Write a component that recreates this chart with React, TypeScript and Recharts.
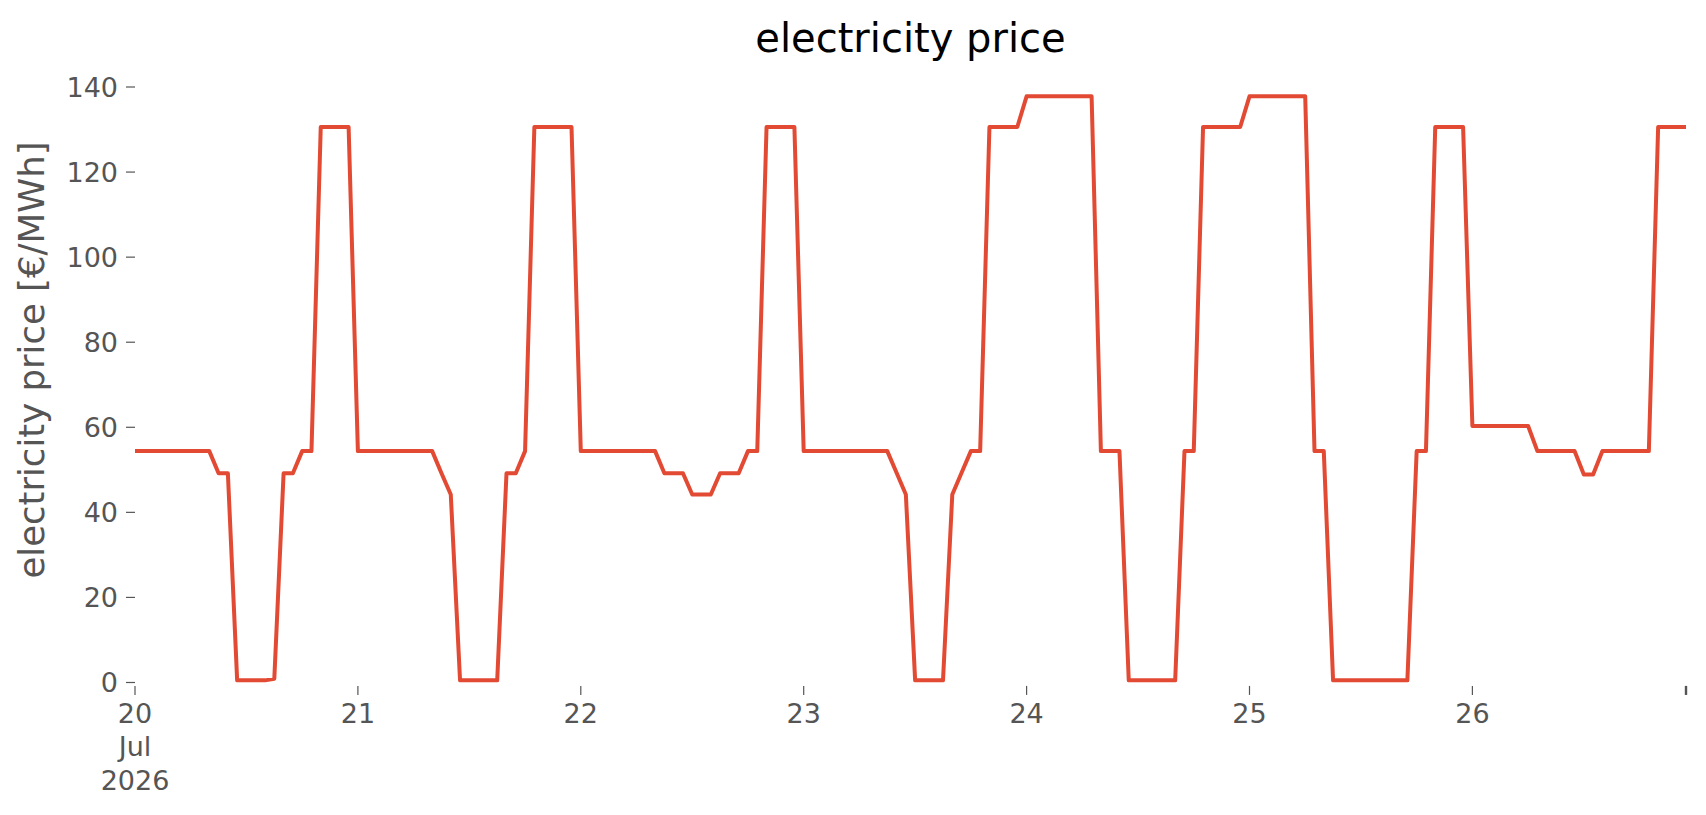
import React from "react";
import { LineChart, Line, XAxis, YAxis } from "recharts";

// Hourly electricity prices [€/MWh], 20–26 Jul 2026 (24 values per day)
const jul20 = [54.4, 54.4, 54.4, 54.4, 54.4, 54.4, 54.4, 54.4, 54.4, 49.2, 49.2, 0.5, 0.5, 0.5, 0.5, 0.9, 49.2, 49.2, 54.4, 54.4, 130.6, 130.6, 130.6, 130.6];
const jul21 = [54.4, 54.4, 54.4, 54.4, 54.4, 54.4, 54.4, 54.4, 54.4, 49.2, 44.2, 0.5, 0.5, 0.5, 0.5, 0.5, 49.2, 49.2, 54.4, 130.6, 130.6, 130.6, 130.6, 130.6];
const jul22 = [54.4, 54.4, 54.4, 54.4, 54.4, 54.4, 54.4, 54.4, 54.4, 49.2, 49.2, 49.2, 44.2, 44.2, 44.2, 49.2, 49.2, 49.2, 54.4, 54.4, 130.6, 130.6, 130.6, 130.6];
const jul23 = [54.4, 54.4, 54.4, 54.4, 54.4, 54.4, 54.4, 54.4, 54.4, 54.4, 49.3, 44.2, 0.5, 0.5, 0.5, 0.5, 44.2, 49.3, 54.4, 54.4, 130.6, 130.6, 130.6, 130.6];
const jul24 = [137.8, 137.8, 137.8, 137.8, 137.8, 137.8, 137.8, 137.8, 54.4, 54.4, 54.4, 0.5, 0.5, 0.5, 0.5, 0.5, 0.5, 54.4, 54.4, 130.6, 130.6, 130.6, 130.6, 130.6];
const jul25 = [137.8, 137.8, 137.8, 137.8, 137.8, 137.8, 137.8, 54.4, 54.4, 0.5, 0.5, 0.5, 0.5, 0.5, 0.5, 0.5, 0.5, 0.5, 54.4, 54.4, 130.6, 130.6, 130.6, 130.6];
const jul26 = [60.3, 60.3, 60.3, 60.3, 60.3, 60.3, 60.3, 54.4, 54.4, 54.4, 54.4, 54.4, 48.9, 48.9, 54.4, 54.4, 54.4, 54.4, 54.4, 54.4, 130.6, 130.6, 130.6, 130.6];

const days = [jul20, jul21, jul22, jul23, jul24, jul25, jul26];

// x ticks (hour index from 20 Jul 00:00) and their labels
const xTicks = [0, 24, 48, 72, 96, 120, 144, 167];
const xTickLabels: string[][] = [["20", "Jul", "2026"], ["21"], ["22"], ["23"], ["24"], ["25"], ["26"], []];
const yTicks = [0, 20, 40, 60, 80, 100, 120, 140];

const data = days.flatMap((prices, d) =>
  prices.map((price, h) => ({ t: d * 24 + h, price }))
);

const FONT = "'DejaVu Sans', 'Liberation Sans', sans-serif";
const GREY = "#555555";
const TICK_FS = 27;

function XTick(props: any) {
  const { x, y, payload } = props;
  const idx = xTicks.indexOf(payload.value);
  const lines = idx >= 0 ? xTickLabels[idx] : [];
  return (
    <g>
      {payload.value === 167 && (
        <line x1={x} x2={x} y1={y - 11} y2={y - 2} stroke={GREY} strokeWidth={2.4} />
      )}
      <text x={x} y={y} fill={GREY} fontSize={TICK_FS} fontFamily={FONT} textAnchor="middle">
        {lines.map((l, i) => (
          <tspan key={i} x={x} dy={i === 0 ? 25.8 : 33.4}>
            {l}
          </tspan>
        ))}
      </text>
    </g>
  );
}

export default function App() {
  return (
    <div style={{ position: "relative", width: 1706, height: 815, background: "#ffffff", fontFamily: FONT }}>
      <style>{"body{margin:0;background:#ffffff;}"}</style>
      <LineChart
        width={1706}
        height={815}
        data={data}
        margin={{ top: 87, right: 20, bottom: 29.1, left: 0 }}
      >
        <XAxis
          type="number"
          dataKey="t"
          domain={[0, 167]}
          ticks={xTicks}
          interval={0}
          axisLine={false}
          tickLine={{ stroke: GREY, strokeWidth: 1.2 }}
          tickSize={9}
          tickMargin={2}
          height={100}
          tick={<XTick />}
        />
        <YAxis
          type="number"
          domain={[-0.8, 140]}
          ticks={yTicks}
          interval={0}
          axisLine={false}
          tickLine={{ stroke: GREY, strokeWidth: 1.2 }}
          tickSize={9}
          tickMargin={8}
          width={135}
          tick={{ fill: GREY, fontSize: TICK_FS, fontFamily: FONT }}
        />
        <Line
          type="linear"
          dataKey="price"
          stroke="#E24A33"
          strokeWidth={4}
          strokeLinejoin="round"
          dot={false}
          activeDot={false}
          isAnimationActive={false}
        />
      </LineChart>
      <svg
        width={1706}
        height={815}
        style={{ position: "absolute", left: 0, top: 0, pointerEvents: "none" }}
      >
        <text x={910.5} y={52} textAnchor="middle" fontSize={40} fill="#000000" fontFamily={FONT}>
          electricity price
        </text>
        <text
          transform="translate(44, 360) rotate(-90)"
          textAnchor="middle"
          fontSize={35.5}
          fill={GREY}
          fontFamily={FONT}
        >
          electricity price [€/MWh]
        </text>
      </svg>
    </div>
  );
}
